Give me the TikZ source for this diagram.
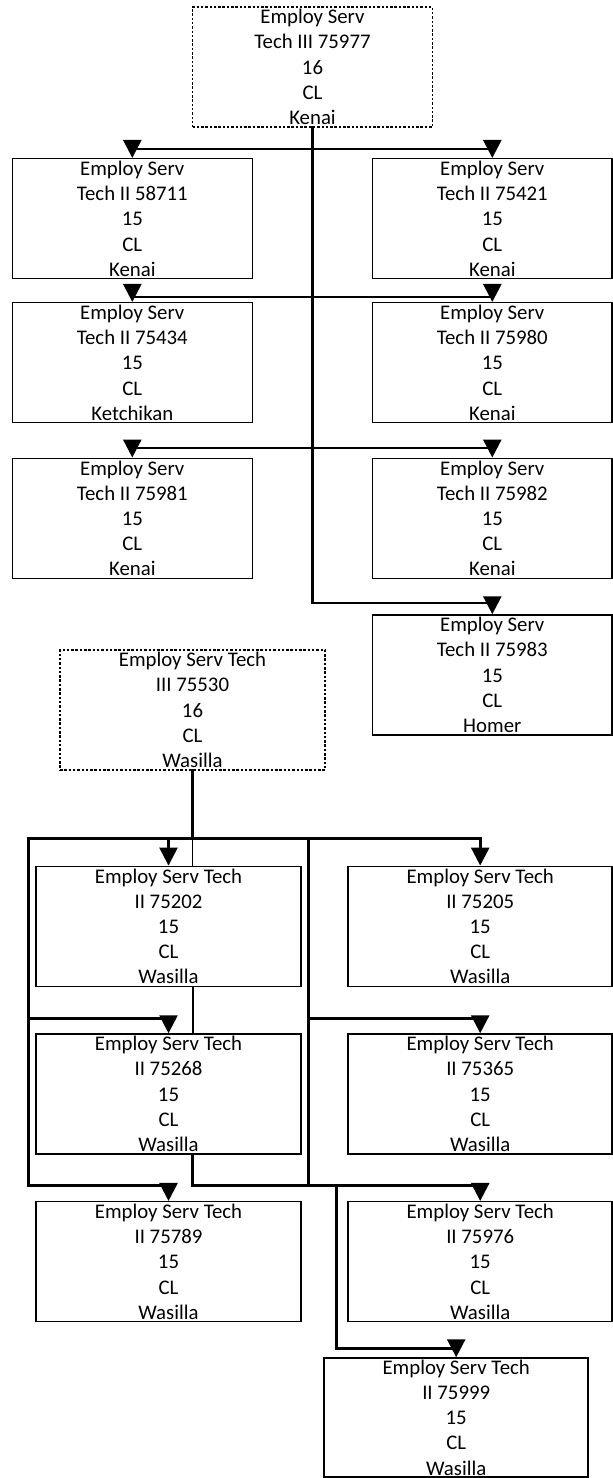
\documentclass[tikz,border=0pt]{standalone}
\usepackage{fontspec}
\setmainfont{Carlito}
\usetikzlibrary{arrows.meta}
\begin{document}
\begin{tikzpicture}[x=1pt,y=-1pt,
  box/.style={draw, line width=1.5pt, minimum height=120pt, inner sep=0pt, align=center,
              font=\fontsize{20.8}{25.2}\selectfont},
  mgr/.style={box, line width=1.3pt, dash pattern=on 2.5pt off 1.8pt},
  conn/.style={line width=2.6pt, line cap=rect},
  thinconn/.style={line width=1.7pt},
  arr/.style={line width=2.6pt, -{Triangle[length=18pt,width=18pt]}},
]
\useasboundingbox (0,0) rectangle (613,1478);

% ---------- Kenai group ----------
\node[mgr, minimum width=240pt] (k0) at (312.5,67) {Employ Serv\\Tech III 75977\\16\\CL\\Kenai};
\node[box, minimum width=240pt] (k1) at (132.3,218.7) {Employ Serv\\Tech II 58711\\15\\CL\\Kenai};
\node[box, minimum width=239.5pt] (k2) at (492.3,218.7) {Employ Serv\\Tech II 75421\\15\\CL\\Kenai};
\node[box, minimum width=240pt] (k3) at (132.3,362.7) {Employ Serv\\Tech II 75434\\15\\CL\\Ketchikan};
\node[box, minimum width=239.5pt] (k4) at (492.3,362.7) {Employ Serv\\Tech II 75980\\15\\CL\\Kenai};
\node[box, minimum width=240pt] (k5) at (132.3,518.3) {Employ Serv\\Tech II 75981\\15\\CL\\Kenai};
\node[box, minimum width=239.5pt] (k6) at (492.3,518.3) {Employ Serv\\Tech II 75982\\15\\CL\\Kenai};
\node[box, minimum width=239.5pt] (k7) at (492.3,675) {Employ Serv\\Tech II 75983\\15\\CL\\Homer};

\draw[conn] (k0.south) -- (k0.south |- 0,603) -- (k7.north |- 0,603);
\draw[conn] (k1.north |- 0,149) -- (k2.north |- 0,149);
\draw[arr] (k1.north |- 0,149) -- (k1.north);
\draw[arr] (k2.north |- 0,149) -- (k2.north);
\draw[conn] (k3.north |- 0,297) -- (k4.north |- 0,297);
\draw[arr] (k3.north |- 0,297) -- (k3.north);
\draw[arr] (k4.north |- 0,297) -- (k4.north);
\draw[conn] (k5.north |- 0,448) -- (k6.north |- 0,448);
\draw[arr] (k5.north |- 0,448) -- (k5.north);
\draw[arr] (k6.north |- 0,448) -- (k6.north);
\draw[arr] (k7.north |- 0,603) -- (k7.north);

% ---------- Wasilla group ----------
\node[mgr, minimum width=265pt] (w0) at (192.5,710) {Employ Serv Tech\\III 75530\\16\\CL\\Wasilla};
\node[box, minimum width=265pt] (w1) at (168.5,926.3) {Employ Serv Tech\\II 75202\\15\\CL\\Wasilla};
\node[box, minimum width=264pt] (w2) at (480.2,926.3) {Employ Serv Tech\\II 75205\\15\\CL\\Wasilla};
\node[box, minimum width=265pt] (w3) at (168.5,1094) {Employ Serv Tech\\II 75268\\15\\CL\\Wasilla};
\node[box, minimum width=264pt] (w4) at (480.2,1094) {Employ Serv Tech\\II 75365\\15\\CL\\Wasilla};
\node[box, minimum width=265pt] (w5) at (168.5,1261.7) {Employ Serv Tech\\II 75789\\15\\CL\\Wasilla};
\node[box, minimum width=264pt] (w6) at (480.2,1261.7) {Employ Serv Tech\\II 75976\\15\\CL\\Wasilla};
\node[box, minimum width=264pt, minimum height=119pt] (w7) at (456.2,1417.5) {Employ Serv Tech\\II 75999\\15\\CL\\Wasilla};

\coordinate (hL) at (28.3,838.3);
\coordinate (hM) at (308.3,838.3);
\coordinate (hR) at (w2.north |- hL);
\coordinate (rL1) at (28.3,1018.3);
\coordinate (rL2) at (28.3,1185.7);
\coordinate (rM1) at (308.3,1018.3);
\coordinate (rM2) at (308.3,1185.7);
\coordinate (jA) at (192.5,1185.7);
\coordinate (jB) at (336.5,1185.7);
\coordinate (jC) at (336.5,1348.3);

\draw[conn] (w0.south) -- (w0.south |- hL);
\draw[conn] (hL) -- (hR);
\draw[thinconn] (w0.south |- hL) -- (w0.south |- w1.north);
\draw[arr] (w1.north |- hL) -- (w1.north);
\draw[arr] (hR) -- (w2.north);

\draw[conn] (hL) -- (rL2) -- (w5.north |- rL2);
\draw[conn] (rL1) -- (w3.north |- rL1);
\draw[arr] (w3.north |- rL1) -- (w3.north);
\draw[arr] (w5.north |- rL2) -- (w5.north);

\draw[conn] (hM) -- (rM2) -- (w6.north |- rM2);
\draw[conn] (rM1) -- (w4.north |- rM1);
\draw[arr] (w4.north |- rM1) -- (w4.north);
\draw[arr] (w6.north |- rM2) -- (w6.north);

\draw[line width=2pt] (w1.south -| w0.south) -- (w3.north -| w0.south);
\draw[conn] (w3.south -| w0.south) -- (jA) -- (jB) -- (jC) -- (w7.north |- jC);
\draw[arr] (w7.north |- jC) -- (w7.north);
\end{tikzpicture}
\end{document}
